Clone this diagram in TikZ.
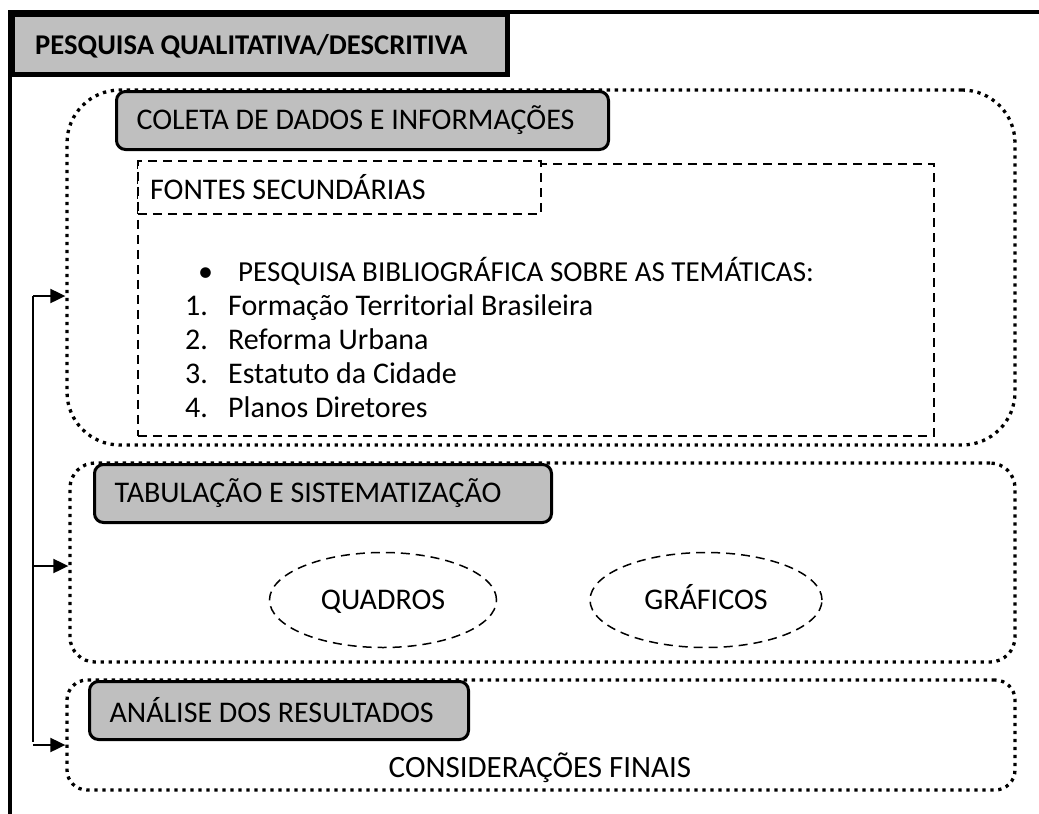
\documentclass[tikz,border=0pt]{standalone}
\usepackage{fontspec}
\setmainfont{Carlito}
\usetikzlibrary{arrows.meta,shapes.geometric}

\newcommand{\corpo}{\fontsize{30}{34}\selectfont}

\tikzset{
  moldura/.style={line width=4.5pt},
  pontilhado/.style={draw, line width=3.3pt, dash pattern=on 3.3pt off 4.7pt,
    minimum width=#1, inner sep=0pt},
  rotulo/.style={draw, line width=3pt, fill=gray!50, rounded corners=9pt,
    anchor=north west, minimum height=58pt, inner xsep=20pt,
    align=flush left, font=\corpo},
  tracejado/.style={draw, line width=1.5pt, dash pattern=on 9pt off 6pt,
    inner sep=0pt, anchor=north west},
  bolha/.style={draw, ellipse, line width=1.5pt, dash pattern=on 9pt off 6pt,
    minimum height=95pt, inner sep=0pt, text height=19pt, text depth=0pt,
    font=\corpo},
  texto/.style={anchor=base west, inner sep=0pt, font=\corpo},
  seta/.style={line width=2pt, -{Triangle[length=15pt,width=14pt]}}
}

\begin{document}
\begin{tikzpicture}[x=1pt,y=-1pt]
  \useasboundingbox (0,0) rectangle (1039,814);
  % moldura externa
  \draw[moldura] (1039,12) -- (10,12) -- (10,814);
  \node[draw, moldura, fill=gray!50, anchor=north west, minimum width=495pt,
    minimum height=60pt, inner sep=0pt] (titulo) at (10,12) {};
  \node[texto, font=\bfseries\fontsize{28.6}{34}\selectfont] (titulotxt) at (35,54)
    {PESQUISA QUALITATIVA/DESCRITIVA};

  % etapas
  \node[pontilhado=948pt, minimum height=355pt, rounded corners=53pt] (coleta) at (541,267.5) {};
  \node[pontilhado=945pt, minimum height=199pt, rounded corners=25pt] (tabula) at (542.5,562.5) {};
  \node[pontilhado=948pt, minimum height=110pt, rounded corners=20pt] (analise) at (541,735) {};

  \node[rotulo, text width=452pt] (coletatit) at (115,90) {COLETA DE DADOS E INFORMAÇÕES};
  \node[rotulo, text width=417pt] (tabulatit) at (93,463) {TABULAÇÃO E SISTEMATIZAÇÃO};
  \node[rotulo, text width=339pt] (analisetit) at (88,680) {ANÁLISE DOS RESULTADOS};

  % fontes secundarias
  \node[tracejado, minimum width=796pt, minimum height=272pt] (lista) at (137,163) {};
  \node[tracejado, fill=white, minimum width=403pt, minimum height=53pt] (fontes) at (137,160) {};
  \node[texto] (fontestxt) at (150,199) {FONTES SECUNDÁRIAS};
  \node[texto] (marca) at (198,281) {•};
  \node[texto, font=\fontsize{29}{34}\selectfont] (pesquisa) at (238,281)
    {PESQUISA BIBLIOGRÁFICA SOBRE AS TEMÁTICAS:};
  \foreach \n/\t [count=\i] in {1/Formação Territorial Brasileira,2/Reforma Urbana,
      3/Estatuto da Cidade,4/Planos Diretores}{
    \node[texto] (num\i) at (185,{281+34*\i}) {\n.};
    \node[texto] (item\i) at (228,{281+34*\i}) {\t};
  }

  % quadros e graficos
  \node[bolha, minimum width=227pt] (quadros) at (383,600) {QUADROS};
  \node[bolha, minimum width=232pt] (graficos) at (706,600) {GRÁFICOS};

  \node[font=\fontsize{31}{34}\selectfont] (finais) at (540,768) {CONSIDERAÇÕES FINAIS};

  % setas
  \coordinate (b1) at (33,296);
  \coordinate (b2) at (33,566);
  \coordinate (b3) at (33,745);
  \draw[line width=2pt] (b1) -- ([yshift=3pt]b3);
  \foreach \b/\c in {b1/coleta,b2/tabula,b3/analise}{
    \draw[seta] (\b) -- (\b -| \c.west);
  }
\end{tikzpicture}
\end{document}
